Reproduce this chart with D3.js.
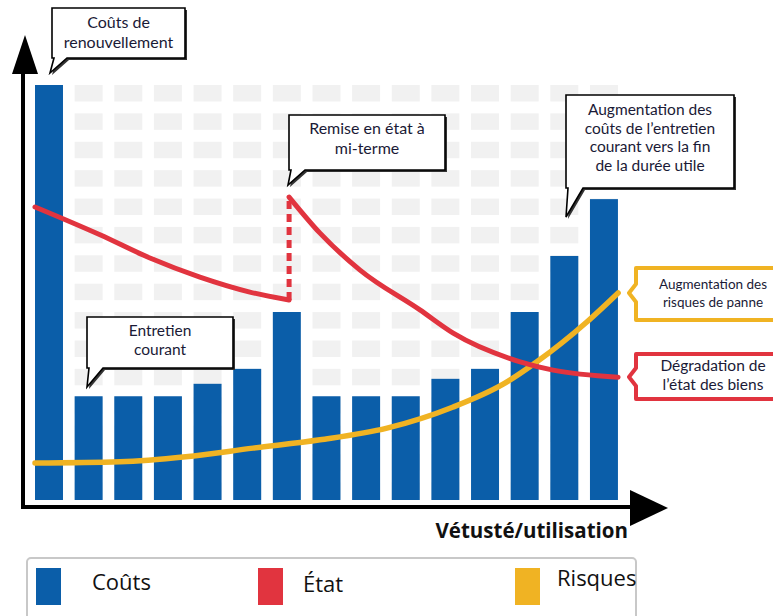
<!DOCTYPE html>
<html>
<head>
<meta charset="utf-8">
<script src="https://cdn.jsdelivr.net/npm/d3@7"></script>
<style>
  body { margin: 0; background: #fff; }
  svg { display: block; }
  .callout text { font-family: Lato, "Open Sans", sans-serif; fill: #1a1a36; }
</style>
</head>
<body>
<svg id="chart" width="773" height="616"></svg>
<script>
// periods along the life of the asset (no tick labels in the figure)
const periods = [1, 2, 3, 4, 5, 6, 7, 8, 9, 10, 11, 12, 13, 14, 15];
// costs per period (renewal first, then maintenance, mid-term overhaul, end of life)
const couts = [100, 25, 25, 25, 28, 31.6, 45.3, 25, 25, 25, 29.2, 31.6, 45.3, 58.8, 72.5];

// condition of the asset: [position along periods, value]
const etatAvant = [[0, 70.6], [1.64, 63.9], [2.9, 58.3], [4.16, 53.7], [5.42, 50.1], [6.41, 48.2]];
const etatApres = [[6.41, 73.0], [7.19, 64.3], [8.2, 55.4], [9.71, 45.8], [10.55, 40.2],
                   [12.24, 33.3], [13.07, 31.3], [14.71, 29.6]];
// failure risk
const risques = [[0, 8.9], [2.14, 9.2], [3.8, 10.4], [5.5, 12.5], [7.19, 14.5], [8.88, 17.3],
                 [10.55, 22.4], [11.81, 27.9], [12.66, 33.3], [13.92, 42.9], [14.71, 49.9]];

const legendItems = ['Coûts', 'État', 'Risques'];
const colors = { 'Coûts': '#0b5ea9', 'État': '#e1343f', 'Risques': '#f0b323' };

const svg = d3.select('#chart');

const step = 39.64;
let x = d3.scaleBand()
    .domain(periods)
    .range([35, 35 + (periods.length - 0.294) * step])
    .paddingInner(0.294)
    .paddingOuter(0);

// continuous position: t = i means left edge of bar i
let xt = d3.scaleLinear()
    .domain([0, periods.length])
    .range([35, 35 + periods.length * step]);

let y = d3.scaleLinear()
    .domain([0, 100])
    .range([500, 85]);

// background grey dashed columns
const rowStep = 6.84;
const gridRows = d3.range(15);
let grid = svg.append('g');
periods.forEach(function (p) {
    grid.selectAll(null)
        .data(gridRows)
        .enter()
        .append('rect')
        .attr('x', x(p))
        .attr('width', x.bandwidth())
        .attr('y', function (k) { return y(100 - k * rowStep); })
        .attr('height', y(0) - y(rowStep * 0.58))
        .attr('fill', '#f1f1f1');
});

// bars
svg.append('g')
    .selectAll('rect')
    .data(couts)
    .enter()
    .append('rect')
    .attr('x', function (d, i) { return x(periods[i]); })
    .attr('y', function (d) { return y(d); })
    .attr('width', x.bandwidth())
    .attr('height', function (d) { return y(0) - y(d); })
    .attr('fill', colors['Coûts']);

// lines
let line = d3.line()
    .x(function (d) { return xt(d[0]); })
    .y(function (d) { return y(d[1]); })
    .curve(d3.curveMonotoneX);

svg.append('path')
    .attr('d', line(risques))
    .attr('fill', 'none')
    .attr('stroke', colors['Risques'])
    .attr('stroke-width', 5.5)
    .attr('stroke-linecap', 'round');

svg.append('path')
    .attr('d', line(etatAvant))
    .attr('fill', 'none')
    .attr('stroke', colors['État'])
    .attr('stroke-width', 5)
    .attr('stroke-linecap', 'round');

svg.append('line')
    .attr('x1', xt(etatAvant[etatAvant.length - 1][0]))
    .attr('x2', xt(etatApres[0][0]))
    .attr('y1', y(etatAvant[etatAvant.length - 1][1]))
    .attr('y2', y(etatApres[0][1]))
    .attr('stroke', colors['État'])
    .attr('stroke-width', 5)
    .attr('stroke-dasharray', '8,5');

svg.append('path')
    .attr('d', line(etatApres))
    .attr('fill', 'none')
    .attr('stroke', colors['État'])
    .attr('stroke-width', 5)
    .attr('stroke-linecap', 'round');

// axes with arrow heads
svg.append('line')
    .attr('x1', 23).attr('x2', 23)
    .attr('y1', 509).attr('y2', 60)
    .attr('stroke', '#000').attr('stroke-width', 4);
svg.append('path')
    .attr('d', 'M25,35 L38,74 L12,74 Z')
    .attr('fill', '#000');
svg.append('line')
    .attr('x1', 21).attr('x2', 640)
    .attr('y1', 507).attr('y2', 507)
    .attr('stroke', '#000').attr('stroke-width', 4);
svg.append('path')
    .attr('d', 'M668,508 L630,490 L630,526 Z')
    .attr('fill', '#000');

svg.append('text')
    .attr('x', 628)
    .attr('y', 538)
    .attr('text-anchor', 'end')
    .style('font-family', '"Open Sans", sans-serif')
    .style('font-weight', 'bold')
    .style('font-size', '20.5px')
    .style('fill', '#111')
    .text('Vétusté/utilisation');

// speech-bubble callouts
function callout(x0, y0, x1, y1, tipX, tipY, baseW, lines, size, firstY, gap) {
    let g = svg.append('g').attr('class', 'callout');
    let p = 'M' + x0 + ',' + y0 + ' L' + x1 + ',' + y0 + ' L' + x1 + ',' + y1 +
        ' L' + (x0 + baseW) + ',' + y1 + ' L' + tipX + ',' + tipY +
        ' L' + (x0 + 2) + ',' + y1 + ' L' + x0 + ',' + y1 + ' Z';
    g.append('path').attr('d', p)
        .attr('transform', 'translate(2,2)')
        .attr('fill', '#333');
    g.append('path').attr('d', p)
        .attr('fill', '#fff')
        .attr('stroke', '#000')
        .attr('stroke-width', 1.6)
        .attr('stroke-linejoin', 'miter');
    lines.forEach(function (t, i) {
        g.append('text')
            .attr('x', (x0 + x1) / 2)
            .attr('y', firstY + i * gap)
            .attr('text-anchor', 'middle')
            .style('font-size', size + 'px')
            .text(t);
    });
}

callout(52, 8, 185, 58, 50, 73, 15, ['Coûts de', 'renouvellement'], 16, 28, 20);
callout(289, 115, 445, 170, 288, 185, 16, ['Remise en état à', 'mi-terme'], 16, 134, 20);
callout(566, 95, 734, 188, 566, 217, 17,
    ['Augmentation des', 'coûts de l\u2019entretien', 'courant vers la fin', 'de la durée utile'], 15.5, 115, 18.7);
callout(87, 317, 233, 368, 87, 387, 16, ['Entretien', 'courant'], 15.5, 336, 19);

// coloured side labels
function sideLabel(y0, y1, tipY, color, lines, size, firstY, gap) {
    let g = svg.append('g').attr('class', 'callout');
    let p = 'M636,' + y0 + ' L790,' + y0 + ' L790,' + y1 + ' L636,' + y1 +
        ' L636,' + (tipY + 9) + ' L629,' + tipY + ' L636,' + (tipY - 9) + ' Z';
    g.append('path').attr('d', p)
        .attr('fill', '#fff')
        .attr('stroke', color)
        .attr('stroke-width', 4)
        .attr('stroke-linejoin', 'round');
    lines.forEach(function (t, i) {
        g.append('text')
            .attr('x', 713)
            .attr('y', firstY + i * gap)
            .attr('text-anchor', 'middle')
            .style('font-size', size + 'px')
            .text(t);
    });
}

sideLabel(268, 320, 293, colors['Risques'], ['Augmentation des', 'risques de panne'], 13.5, 289, 18);
sideLabel(354, 399, 377, colors['État'], ['Dégradation de', 'l\u2019état des biens'], 15.5, 371, 19);

// legend
let legend = svg.append('g');
legend.append('rect')
    .attr('x', 27).attr('y', 558)
    .attr('width', 609).attr('height', 70)
    .attr('rx', 4)
    .attr('fill', '#fff')
    .attr('stroke', '#c8c8c8')
    .attr('stroke-width', 2);
const legendX = [36, 258, 515];
const legendTextX = [92, 303, 557];
const legendTextY = [590, 592, 586];
legendItems.forEach(function (name, i) {
    legend.append('rect')
        .attr('x', legendX[i]).attr('y', 568)
        .attr('width', 25).attr('height', 37)
        .attr('fill', colors[name]);
    legend.append('text')
        .attr('x', legendTextX[i])
        .attr('y', legendTextY[i])
        .style('font-family', '"Open Sans", sans-serif')
        .style('font-size', '22px')
        .style('fill', '#111')
        .text(name);
});
</script>
</body>
</html>
